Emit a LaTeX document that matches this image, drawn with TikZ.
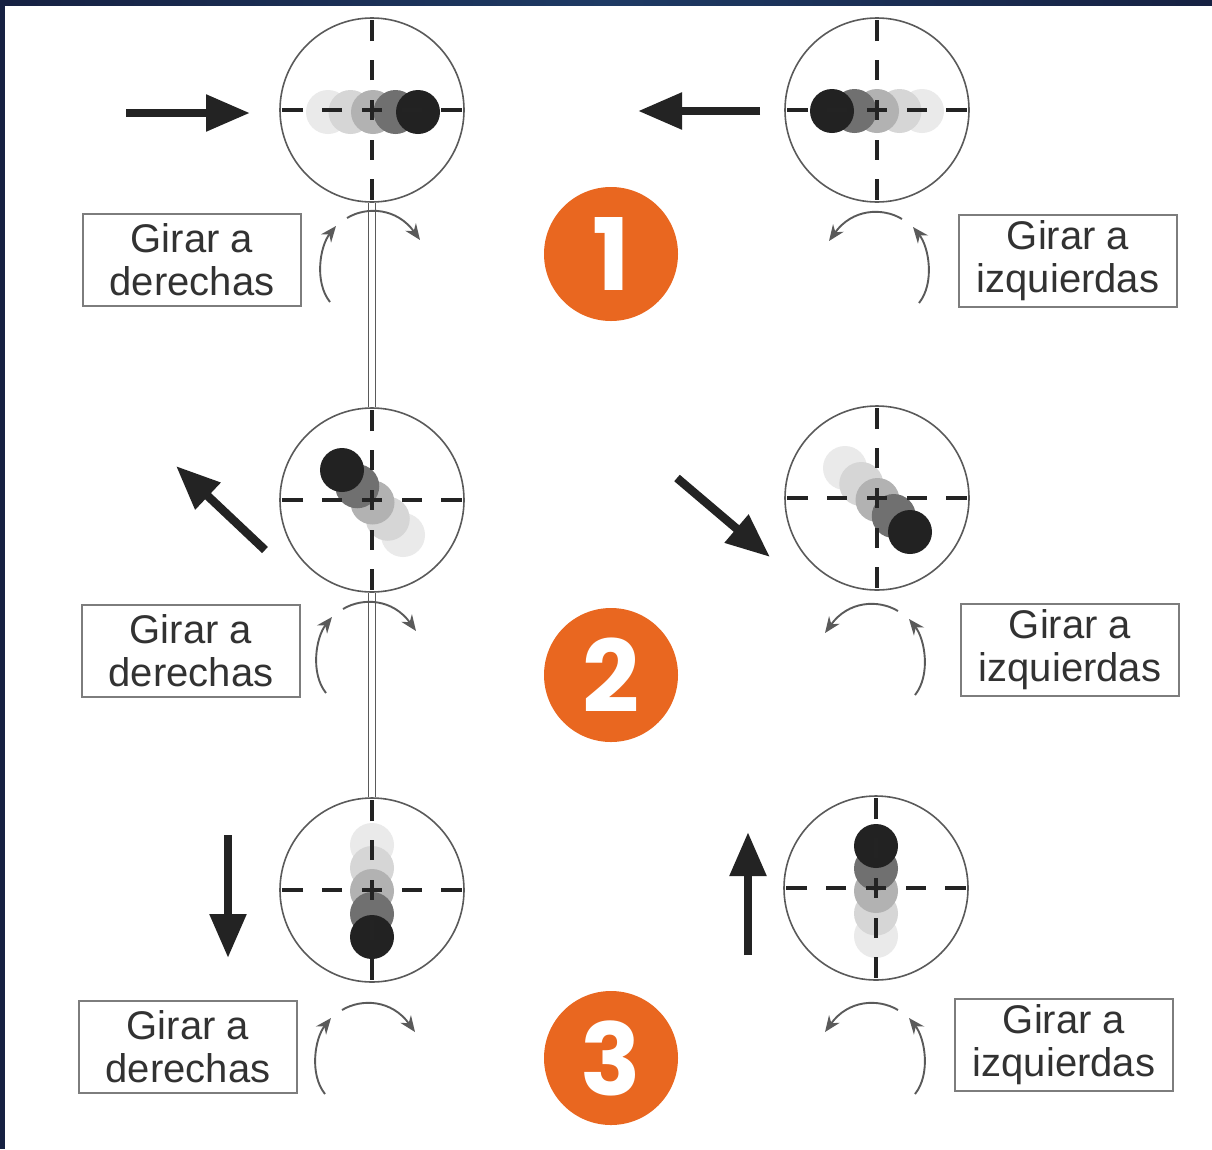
\documentclass[tikz,border=0pt]{standalone}
\usepackage{fontspec}
\setmainfont{Liberation Sans}
\newfontfamily\badgefont{Poppins}
\usetikzlibrary{calc,arrows.meta}
\definecolor{frameNavy}{RGB}{22,33,66}
\definecolor{frameBlue}{RGB}{30,58,100}
\definecolor{badgeOrange}{RGB}{233,103,32}
\definecolor{inkDark}{RGB}{35,35,35}
\definecolor{textGray}{RGB}{50,50,50}
\definecolor{lineGray}{RGB}{90,90,90}
\definecolor{boxGray}{RGB}{125,125,125}
\definecolor{dotA}{RGB}{234,234,234}
\definecolor{dotB}{RGB}{214,214,214}
\definecolor{dotC}{RGB}{178,178,178}
\definecolor{dotD}{RGB}{112,112,112}
\definecolor{dotE}{RGB}{34,34,34}
\newcommand{\Mira}[7]{%
  \node[sightring] (#1) at (#2,#3) {};
  \foreach \g [count=\i from 0] in {dotA,dotB,dotC,dotD,dotE}
    \fill[\g] ({#4+\i*(#6)},{#5+\i*(#7)}) circle (22);
  \foreach \ang in {0,90,180,270}
    \foreach \a/\b in {0/10,30/50,69/90}
      \draw[crosshair] ($(#1.center)+(\ang:\a)$) -- ($(#1.center)+(\ang:\b)$);
}
\newcommand{\Giro}[3]{%
  \begin{scope}[shift={(#1,#2)},xscale=#3]
    \draw[turnarrow] (-25,6) .. controls (-5,-6) and (25,-4) .. (48,28);
    \draw[turnarrow] (-42,90) .. controls (-58,70) and (-52,34) .. (-36,14);
  \end{scope}}

\begin{document}
\begin{tikzpicture}[x=1pt,y=-1pt,
  sightring/.style={circle,draw=lineGray,line width=1.6pt,minimum size=184pt,inner sep=0pt},
  crosshair/.style={draw=inkDark,line width=3.4pt},
  bigarrow/.style={draw=inkDark,line width=8.5pt,-{Triangle[length=44pt,width=35pt]}},
  turnarrow/.style={draw=lineGray,line width=1.9pt,-{Stealth[length=16pt,width=13pt]}},
  labelbox/.style={draw=boxGray,line width=1.8pt,minimum width=218pt,minimum height=92pt,inner sep=0pt,
                   align=center,text=textGray,font=\fontsize{40}{43}\selectfont},
  badge/.style={circle,fill=badgeOrange,minimum size=134pt,inner sep=0pt,text=white,
                font=\badgefont\bfseries\fontsize{100}{100}\selectfont},
  rail/.style={draw=lineGray,line width=1.3pt,double=white,double distance=6pt}]
\useasboundingbox (0,0) rectangle (1212,1149);
\fill[white] (0,0) rectangle (1212,1149);
\shade[left color=frameNavy,right color=frameNavy,middle color=frameBlue] (0,0) rectangle (1212,5);
\fill[frameNavy] (0,0) rectangle (5,1149);

\Mira{s1l}{372}{110}{328}{112}{22.5}{0}
\Mira{s1r}{877}{110}{922}{111}{-22.5}{0}
\Mira{s2l}{372}{500}{403}{535}{-15.25}{-16.25}
\Mira{s2r}{877}{498}{845}{468}{16.25}{16}
\Mira{s3l}{372}{890}{372}{845}{0}{23}
\Mira{s3r}{876}{888}{876}{936}{0}{-22.5}

\draw[rail] (s1l.south) -- (s2l.north);
\draw[rail] (s2l.south) -- (s3l.north);

\foreach \nm/\xa/\ya/\xb/\yb in {1l/126/113/250/113,1r/760/111/638/111,2l/265/550/176/466,
                                2r/677/478/770/557,3l/228/835/228/958,3r/748/955/748/832}{
  \coordinate (tail\nm) at (\xa,\ya);
  \coordinate (head\nm) at (\xb,\yb);
  \draw[bigarrow] (tail\nm) -- (head\nm);
}

\Giro{372}{212}{1}
\Giro{368}{603}{1}
\Giro{367}{1004}{1}
\Giro{877}{213}{-1}
\Giro{873}{605}{-1}
\Giro{873}{1004}{-1}

\foreach \nm/\xx/\yy/\txt in {1l/192/260/derechas,1r/1068/261/izquierdas,2l/191/651/derechas,
                              2r/1070/650/izquierdas,3l/188/1047/derechas,3r/1064/1045/izquierdas}
  \node[labelbox] (lab\nm) at (\xx,\yy) {Girar a\\\txt};

\foreach \n/\yy in {1/254,2/675,3/1058}
  \node[badge] (badge\n) at (611,\yy) {\n};
\end{tikzpicture}
\end{document}
